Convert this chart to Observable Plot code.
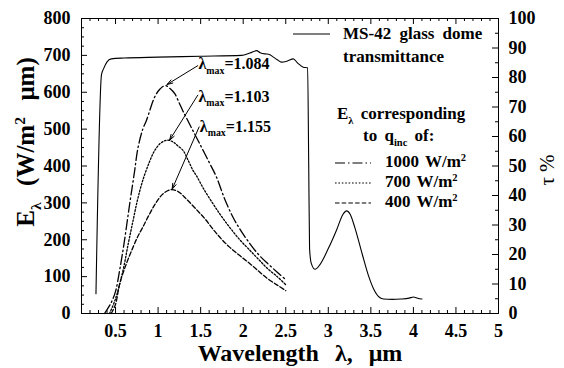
<!DOCTYPE html>
<html><head><meta charset="utf-8">
<script src="https://cdn.jsdelivr.net/npm/d3@7"></script>
<script src="https://cdn.jsdelivr.net/npm/@observablehq/plot@0.6"></script>
<style>
body{margin:0;background:#fff;}
svg{display:block;}
svg text, svg tspan{font-family:"Liberation Serif","Times New Roman",serif !important;}
</style>
</head><body><div id="chart"></div>
<script>
// ---- data ----
const tauLambda = [0.27,0.335,0.36,0.40,0.45,0.6,1.0,1.5,1.98,2.08,2.157,2.2,2.254,2.3,2.35,2.4,2.45,2.52,2.588,2.64,2.706,2.757,2.77,2.78,2.80,2.845,2.9,3.0,3.1,3.17,3.215,3.26,3.313,3.4,3.47,3.53,3.6,3.65,3.75,3.85,3.95,4.0,4.05,4.1];
const tauPercent = [6.7,81,83,85.3,86.3,86.6,86.9,87.2,87.5,88.3,89.1,88.4,88.0,87.9,87.0,86.0,85.2,85.6,86.3,84.9,83.5,83.3,50,22,17,15,16.5,22,28.5,33.5,34.8,33.5,29,20,13,8.5,5.5,4.9,4.8,4.9,5.2,5.6,5.2,4.9];

const e1000Lambda = [0.37,0.45,0.5,0.548,0.6,0.666,0.72,0.765,0.82,0.862,0.96,1.02,1.084,1.14,1.196,1.25,1.29,1.33,1.4,1.49,1.6,1.686,1.78,1.88,1.98,2.08,2.18,2.29,2.4,2.5];
const e1000 = [0,30,60,117,190,297,380,451,500,523,587,608,618,610,596,570,550,532,500,460,410,370,312,261,222,189,160,135,112,92];

const e700Lambda = [0.43,0.5,0.588,0.65,0.706,0.76,0.82,0.9,0.96,1.03,1.103,1.17,1.23,1.294,1.35,1.41,1.45,1.53,1.647,1.74,1.84,1.96,2.08,2.18,2.29,2.4,2.5];
const e700 = [0,40,117,190,252,310,361,412,442,462,470,466,455,442,417,388,374,340,297,265,234,200,171,147,121,100,78];

const e400Lambda = [0.45,0.5,0.548,0.627,0.706,0.76,0.82,0.9,0.98,1.06,1.155,1.24,1.33,1.45,1.55,1.647,1.74,1.84,1.96,2.08,2.18,2.29,2.4,2.5];
const e400 = [0,25,80,135,180,208,234,270,302,325,336,330,311,282,257,228,203,180,157,135,115,94,77,62];

const peakLabels = ["λ_{max}=1.084","λ_{max}=1.103","λ_{max}=1.155"];
const labelLambda = [1.474,1.474,1.49];
const labelE = [676,588,507];
const arrowFromLambda = [1.466,1.466,1.482];
const arrowFromE = [672,592,506];
const arrowToLambda = [1.105,1.135,1.165];
const arrowToE = [621,470,337];

const xTicks = [0.5,1,1.5,2,2.5,3,3.5,4,4.5,5];
const yTicksLeft = [0,100,200,300,400,500,600,700,800];
const yTicksRight = [0,10,20,30,40,50,60,70,80,90,100];

const legendSeries = ["1000 W/m^{2}","700 W/m^{2}","400 W/m^{2}"];
const dashes = ["10,3,1.5,3","1.6,1.8","4.5,2.2"];

// ---- layout ----
const W = 564, H = 368, mL = 81, mR = 66, mT = 18, mB = 55;
const FW = W - mL - mR, FH = H - mT - mB;
const serif = "Liberation Serif, Times New Roman, serif";

const rows = (xs, ys) => xs.map((x, i) => ({x, y: ys[i]}));
const tauRows = rows(tauLambda, tauPercent.map(t => t * 8));
const series = [rows(e1000Lambda, e1000), rows(e700Lambda, e700), rows(e400Lambda, e400)];
const ann = peakLabels.map((t, i) => ({t, x: labelLambda[i], y: labelE[i], x1: arrowFromLambda[i], y1: arrowFromE[i], x2: arrowToLambda[i], y2: arrowToE[i]}));

const xMinor = d3.range(2, 50).map(i => i / 10).filter(v => Math.abs(v * 2 - Math.round(v * 2)) > 1e-6);
const yMinorL = d3.range(25, 800, 25).filter(v => v % 100 !== 0);
const yMinorR = d3.range(40, 800, 40).filter(v => v % 80 !== 0);
const yMajorL = yTicksLeft.slice(1, -1);
const yMajorR = yTicksRight.slice(1, -1).map(v => v * 8);
const xMajor = xTicks.slice(0, -1);

const svg = Plot.plot({
  width: W, height: H,
  marginLeft: mL, marginRight: mR, marginTop: mT, marginBottom: mB,
  style: {fontFamily: serif, fontSize: "18px", fontWeight: "bold", color: "black", background: "white", overflow: "visible"},
  x: {domain: [0.1, 5]},
  y: {domain: [0, 800]},
  marks: [
    Plot.frame({stroke: "black", strokeWidth: 1}),
    // inward ticks
    Plot.tickX(xMinor, {x: d => d, insetTop: FH - 3, stroke: "black"}),
    Plot.tickX(xMajor, {x: d => d, insetTop: FH - 6, stroke: "black"}),
    Plot.tickX(xMinor, {x: d => d, insetBottom: FH - 3, stroke: "black"}),
    Plot.tickX(xMajor, {x: d => d, insetBottom: FH - 6, stroke: "black"}),
    Plot.tickY(yMinorL, {y: d => d, insetRight: FW - 3, stroke: "black"}),
    Plot.tickY(yMajorL, {y: d => d, insetRight: FW - 6, stroke: "black"}),
    Plot.tickY(yMinorR, {y: d => d, insetLeft: FW - 3, stroke: "black"}),
    Plot.tickY(yMajorR, {y: d => d, insetLeft: FW - 6, stroke: "black"}),
    Plot.axisX({ticks: xTicks, tickSize: 0, tickPadding: 11, tickFormat: d => String(d), label: null, fontFamily: serif, fontSize: 18, fontWeight: "bold"}),
    Plot.axisY({anchor: "left", ticks: yTicksLeft, tickSize: 0, tickPadding: 11, tickFormat: d => String(d), label: null, fontFamily: serif, fontSize: 18, fontWeight: "bold"}),
    Plot.axisY({anchor: "right", ticks: yTicksRight.map(v => v * 8), tickSize: 0, tickPadding: 10, tickFormat: d => String(d / 8), label: null, fontFamily: serif, fontSize: 18, fontWeight: "bold"}),
    // data
    Plot.line(tauRows, {x: "x", y: "y", stroke: "black", strokeWidth: 1.1, curve: "monotone-x"}),
    ...series.map((s, i) => Plot.line(s, {x: "x", y: "y", stroke: "black", strokeWidth: 1.3, strokeDasharray: dashes[i], curve: "catmull-rom"})),
    Plot.arrow(ann, {x1: "x1", y1: "y1", x2: "x2", y2: "y2", stroke: "black", strokeWidth: 1, headLength: 9, headAngle: 35}),
    Plot.text(ann, {x: "x", y: "y", text: "t", textAnchor: "start", fontSize: 16, fontWeight: "bold", fontFamily: serif, fill: "black"})
  ]
});
document.getElementById("chart").appendChild(svg);

// rich text helper: _{sub} ^{sup}
function rich(el, str) {
  const fs = parseFloat(getComputedStyle(el).fontSize) || 16;
  while (el.firstChild) el.removeChild(el.firstChild);
  const re = /([_^])\{([^}]*)\}/g;
  const parts = []; let last = 0, m;
  while ((m = re.exec(str))) {
    if (m.index > last) parts.push([null, str.slice(last, m.index)]);
    parts.push([m[1], m[2]]);
    last = re.lastIndex;
  }
  if (last < str.length) parts.push([null, str.slice(last)]);
  let shift = 0;
  for (const [k, s] of parts) {
    const ts = document.createElementNS("http://www.w3.org/2000/svg", "tspan");
    ts.textContent = s;
    const target = k === "_" ? 0.28 * fs : k === "^" ? -0.38 * fs : 0;
    if (target !== shift) ts.setAttribute("dy", (target - shift).toFixed(2));
    shift = target;
    if (k) ts.setAttribute("font-size", (fs * 0.62).toFixed(1));
    el.appendChild(ts);
  }
}
d3.select(svg).selectAll("text").each(function() {
  const s = this.textContent;
  if (/[_^]\{/.test(s)) rich(this, s);
});

const g = d3.select(svg).append("g").attr("font-family", serif).attr("fill", "black");
function addText(x, y, str, opts = {}) {
  const t = g.append("text").attr("x", x).attr("y", y)
    .style("font-size", (opts.size || 17) + "px").style("font-weight", opts.weight || "bold")
    .attr("text-anchor", opts.anchor || "start");
  if (opts.rotate) t.attr("transform", `rotate(${opts.rotate},${x},${y})`);
  if (opts.ws) t.attr("word-spacing", opts.ws);
  rich(t.node(), str);
  return t;
}
// axis titles
addText(300, 361, "Wavelength  λ,  μm", {size: 24, anchor: "middle", ws: 2});
addText(34, 142, "E_{λ}  (W/m^{2}  μm)", {size: 25, anchor: "middle", rotate: -90, ws: 2});
addText(554, 170, "τ %", {size: 21, weight: "normal", anchor: "middle", rotate: -90});

// legend
g.append("line").attr("x1", 293).attr("x2", 330).attr("y1", 34).attr("y2", 34).attr("stroke", "black").attr("stroke-width", 1.1);
addText(343, 39, "MS-42 glass dome", {ws: 4});
addText(343, 62, "transmittance");
addText(337, 119, "E_{λ} corresponding", {ws: 3});
addText(363, 141, "to q_{inc} of:", {ws: 3});
legendSeries.forEach((s, i) => {
  const y = 163 + i * 20;
  g.append("line").attr("x1", 335).attr("x2", 371).attr("y1", y).attr("y2", y)
    .attr("stroke", "black").attr("stroke-width", 1.2).attr("stroke-dasharray", dashes[i]);
  addText(385, y + 4, s, {ws: 2});
});
</script>
</body></html>
